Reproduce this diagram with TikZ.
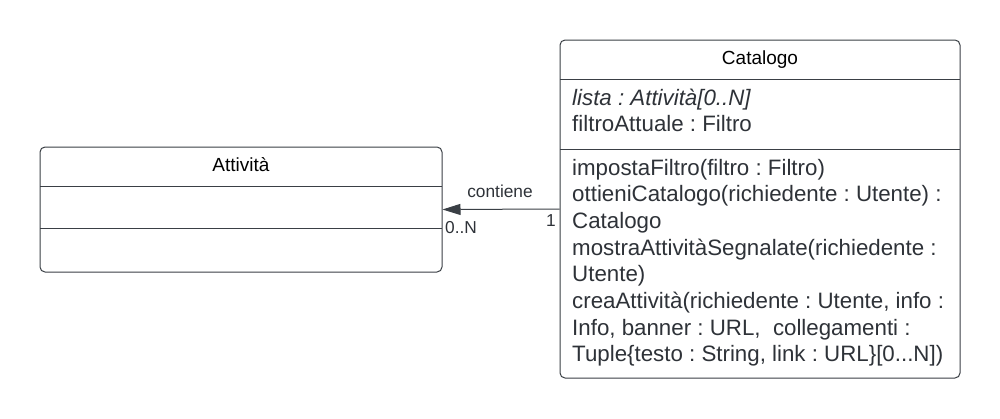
\documentclass[tikz,border=0pt]{standalone}
\usepackage{fontspec}
\setmainfont{Liberation Sans}
\usetikzlibrary{arrows.meta}
\frenchspacing
\definecolor{umlline}{HTML}{3A3F45}
\definecolor{umltext}{HTML}{2E3238}
\tikzset{
  classbox/.style={draw=umlline, line width=1pt, rounded corners=5pt, fill=white, inner sep=0pt},
  divider/.style={draw=umlline, line width=1pt},
  titletext/.style={font=\fontsize{19}{22}\selectfont, text=black, inner sep=0pt, anchor=base},
  bodytext/.style={font=\fontsize{22.3}{26}\selectfont, text=umltext, inner sep=0pt, anchor=base west},
  smalltext/.style={font=\fontsize{17.3}{20}\selectfont, text=umltext, inner sep=0pt},
  assoc/.style={draw=umlline, line width=1pt, -{Triangle[length=18pt,width=11pt]}}
}
\begin{document}
\begin{tikzpicture}[x=1pt,y=-1pt]
\useasboundingbox (0,0) rectangle (1000,418);
% classes
\node[classbox, minimum width=402pt, minimum height=125pt] (att) at (241,209.5) {};
\node[classbox, minimum width=400pt, minimum height=338pt] (cat) at (760,209) {};
% Attività compartments
\coordinate (a1l) at (40,186); \coordinate (a1r) at (442,186);
\coordinate (a2l) at (40,228); \coordinate (a2r) at (442,228);
\draw[divider] (a1l) -- (a1r);
\draw[divider] (a2l) -- (a2r);
\node[titletext] (atttitle) at (241,171) {Attività};
% Catalogo compartments
\coordinate (c1l) at (560,79); \coordinate (c1r) at (960,79);
\coordinate (c2l) at (560,149); \coordinate (c2r) at (960,149);
\draw[divider] (c1l) -- (c1r);
\draw[divider] (c2l) -- (c2r);
\node[titletext] (cattitle) at (760,64) {Catalogo};
\node[bodytext] (attr1) at (572,105) {\textit{lista : Attività[0..N]}};
\node[bodytext] (attr2) at (572,131.7) {filtroAttuale : Filtro};
\node[bodytext] (op1) at (572,175) {impostaFiltro(filtro : Filtro)};
\node[bodytext] (op2) at (572,201.7) {ottieniCatalogo(richiedente : Utente) :};
\node[bodytext] (op3) at (572,228.4) {Catalogo};
\node[bodytext] (op4) at (572,255.1) {mostraAttivitàSegnalate(richiedente :};
\node[bodytext] (op5) at (572,281.8) {Utente)};
\node[bodytext] (op6) at (572,308.5) {creaAttività(richiedente : Utente, info :};
\node[bodytext] (op7) at (572,335.2) {Info, banner : URL,\ \ collegamenti :};
\node[bodytext] (op8) at (572,361.9) {Tuple\{testo : String, link : URL\}[0...N])};
% association
\draw[assoc] (cat.west) -- (att.east);
\node[smalltext, anchor=base] (assoclabel) at (500,197) {contiene};
\node[smalltext, anchor=base west] (multatt) at (445,233) {0..N};
\node[smalltext, anchor=base east] (multcat) at (556,226) {1};
\end{tikzpicture}
\end{document}
